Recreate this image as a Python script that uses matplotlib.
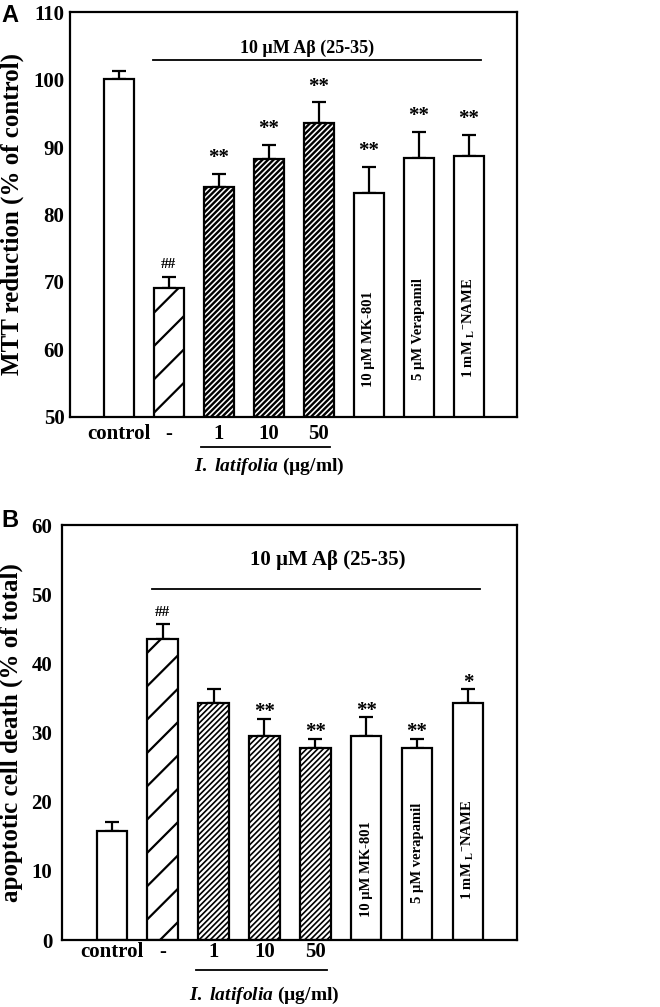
import numpy as np
import matplotlib
matplotlib.use("Agg")
import matplotlib.pyplot as plt

plt.rcParams["font.family"] = ["Liberation Serif", "DejaVu Serif"]
plt.rcParams["font.weight"] = "bold"
plt.rcParams["axes.labelweight"] = "bold"
plt.rcParams["mathtext.fontset"] = "custom"
plt.rcParams["mathtext.rm"] = "Liberation Serif:bold"
plt.rcParams["mathtext.it"] = "Liberation Serif:italic:bold"
plt.rcParams["mathtext.bf"] = "Liberation Serif:bold"

# data
groups = ["control", "-", "1", "10", "50", "MK-801", "Verapamil", "L-NAME"]
tick_labels = ["control", "-", "1", "10", "50", "", "", ""]

mtt_mean = [100.1, 69.1, 84.1, 88.2, 93.5, 83.2, 88.3, 88.7]
mtt_err = [1.2, 1.6, 1.9, 2.1, 3.1, 3.9, 3.9, 3.1]
mtt_marks = ["", "##", "**", "**", "**", "**", "**", "**"]
mtt_inner = ["10 µM MK-801", "5 µM Verapamil", r"1 mM $_\mathregular{L}$$^\mathregular{-}$NAME"]

apo_mean = [15.8, 43.5, 34.3, 29.5, 27.7, 29.5, 27.7, 34.3]
apo_err = [1.3, 2.2, 2.0, 2.5, 1.4, 2.7, 1.4, 2.0]
apo_marks = ["", "##", "", "**", "**", "**", "**", "*"]
apo_inner = ["10 µM MK-801", "5 µM verapamil", r"1 mM $_\mathregular{L}$$^\mathregular{-}$NAME"]

x = np.arange(len(groups))


def draw_panel(ax, mean, err, marks, inner, ylim, ylabel, cfg):
    hatches = [None, "/", cfg["dense"], cfg["dense"], cfg["dense"], None, None, None]
    hlw = [1.0, 1.6, cfg["dense_lw"], cfg["dense_lw"], cfg["dense_lw"], 1.0, 1.0, 1.0]
    bars = ax.bar(x, mean, width=0.6, color="white", edgecolor="black",
                  linewidth=1.6, zorder=2)
    for b, h, lw in zip(bars, hatches, hlw):
        if h:
            b.set_hatch(h)
            b.set_hatch_linewidth(lw)
    ax.errorbar(x, mean, yerr=[np.zeros(len(x)), err], fmt="none", ecolor="black",
                elinewidth=1.6, capsize=5, capthick=1.6, zorder=1)

    top = np.array(mean) + np.array(err)
    for xi, t, m in zip(x, top, marks):
        if not m:
            continue
        if m == "##":
            ax.text(xi, t + cfg["hash_off"], m, ha="center", va="baseline", fontsize=11)
        else:
            ax.text(xi, t + cfg["star_off"], m, ha="center", va="baseline", fontsize=15)

    for xi, lab, y0 in zip(x[5:], inner, cfg["inner_y"]):
        ax.text(xi, y0, lab, rotation=90, ha="center", va="bottom", fontsize=10.5)

    # A-beta bracket
    ax.plot(cfg["top_line_x"], [cfg["top_line_y"]] * 2, color="black", lw=1.3,
            clip_on=False)
    ax.text(cfg["title_x"], cfg["title_y"], "10 µM Aβ (25-35)", ha="center",
            va="center", fontsize=cfg["title_fs"])

    # I. latifolia bracket under the axis
    tr = ax.get_xaxis_transform()
    ax.plot([1.65, 4.23], [cfg["lat_line_y"]] * 2, color="black", lw=1.3,
            transform=tr, clip_on=False)
    ax.text(3, cfg["lat_text_y"], r"$\mathit{I.}$ $\mathit{latifolia}$ (µg/ml)",
            transform=tr, ha="center", va="center", fontsize=14)

    ax.set_xlim(-0.98, 7.96)
    ax.set_ylim(*ylim)
    ax.set_yticks(np.arange(ylim[0], ylim[1] + 1, 10))
    ax.set_xticks(x, tick_labels)
    ax.tick_params(axis="both", length=0, labelsize=15)
    ax.tick_params(axis="x", pad=cfg["xpad"])
    ax.tick_params(axis="y", pad=cfg["ypad"])
    ax.set_ylabel(ylabel, fontsize=18, fontweight="bold", va="center")
    ax.yaxis.set_label_coords(cfg["ylab_x"], 0.5)
    for s in ax.spines.values():
        s.set_linewidth(1.6)


fig = plt.figure(figsize=(6.6, 10.07), dpi=100)
axA = fig.add_axes([0.106, 0.586, 0.677, 0.402])
axB = fig.add_axes([0.094, 0.0665, 0.689, 0.412])

draw_panel(axA, mtt_mean, mtt_err, mtt_marks, mtt_inner, (50, 110),
           "MTT reduction (% of control)",
           dict(hash_off=1.4, star_off=1.6, inner_y=[54.4, 55.4, 55.7],
                top_line_x=[0.68, 7.24], top_line_y=102.9, title_x=3.76,
                title_y=104.6, title_fs=13, lat_line_y=-0.074, lat_text_y=-0.123,
                xpad=5, ypad=4, ylab_x=-0.128, dense="//////", dense_lw=1.7))

draw_panel(axB, apo_mean, apo_err, apo_marks, apo_inner, (0, 60),
           "apoptotic cell death (% of total)",
           dict(hash_off=1.1, star_off=0.2, inner_y=[3.3, 5.3, 5.8],
                top_line_x=[0.78, 7.24], top_line_y=50.7, title_x=4.25,
                title_y=54.9, title_fs=15, lat_line_y=-0.072, lat_text_y=-0.133,
                xpad=1.5, ypad=7, ylab_x=-0.112, dense="//////", dense_lw=1.2))

fig.text(0.015, 0.985, "A", family="Liberation Sans", weight="bold", fontsize=17,
         ha="center", va="center")
fig.text(0.015, 0.4836, "B", family="Liberation Sans", weight="bold", fontsize=17,
         ha="center", va="center")

fig.savefig("out.png", dpi=100)
